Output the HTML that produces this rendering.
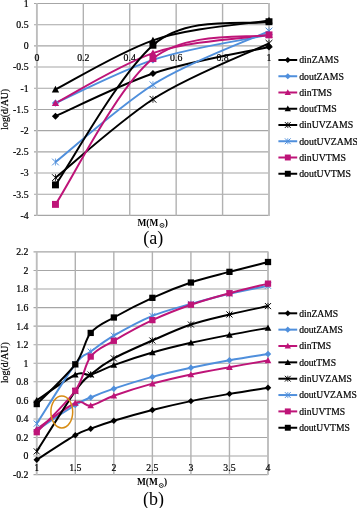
<!DOCTYPE html>
<html><head><meta charset="utf-8"><title>Figure</title>
<style>html,body{margin:0;padding:0;background:#fff;width:357px;height:508px;overflow:hidden}svg{display:block;will-change:transform}text.s{stroke:#000;stroke-width:0.2px}</style>
</head><body>
<svg width="357" height="508" viewBox="0 0 357 508">
<rect width="357" height="508" fill="#fff"/>
<line x1="34" y1="3.50" x2="269.00" y2="3.50" stroke="#a6a6a6" stroke-width="1.1"/>
<line x1="34" y1="24.69" x2="269.00" y2="24.69" stroke="#a6a6a6" stroke-width="1.1"/>
<line x1="34" y1="45.88" x2="269.00" y2="45.88" stroke="#a6a6a6" stroke-width="1.1"/>
<line x1="34" y1="67.07" x2="269.00" y2="67.07" stroke="#a6a6a6" stroke-width="1.1"/>
<line x1="34" y1="88.26" x2="269.00" y2="88.26" stroke="#a6a6a6" stroke-width="1.1"/>
<line x1="34" y1="109.45" x2="269.00" y2="109.45" stroke="#a6a6a6" stroke-width="1.1"/>
<line x1="34" y1="130.64" x2="269.00" y2="130.64" stroke="#a6a6a6" stroke-width="1.1"/>
<line x1="34" y1="151.83" x2="269.00" y2="151.83" stroke="#a6a6a6" stroke-width="1.1"/>
<line x1="34" y1="173.02" x2="269.00" y2="173.02" stroke="#a6a6a6" stroke-width="1.1"/>
<line x1="34" y1="194.21" x2="269.00" y2="194.21" stroke="#a6a6a6" stroke-width="1.1"/>
<line x1="34" y1="215.40" x2="269.00" y2="215.40" stroke="#a6a6a6" stroke-width="1.1"/>
<line x1="36.90" y1="3.00" x2="36.90" y2="215.90" stroke="#bdbdbd" stroke-width="1.9"/>
<line x1="83.32" y1="3.00" x2="83.32" y2="215.90" stroke="#b1b1b1" stroke-width="1.4"/>
<line x1="129.74" y1="3.00" x2="129.74" y2="215.90" stroke="#b1b1b1" stroke-width="1.4"/>
<line x1="176.16" y1="3.00" x2="176.16" y2="215.90" stroke="#b1b1b1" stroke-width="1.4"/>
<line x1="222.58" y1="3.00" x2="222.58" y2="215.90" stroke="#b1b1b1" stroke-width="1.4"/>
<line x1="269.00" y1="3.00" x2="269.00" y2="215.90" stroke="#bdbdbd" stroke-width="1.9"/>
<text x="28.6" y="6.90" text-anchor="end" font-family='"Liberation Serif", serif' class="s" font-size="9.8">1</text>
<text x="28.6" y="28.09" text-anchor="end" font-family='"Liberation Serif", serif' class="s" font-size="9.8">0.5</text>
<text x="28.6" y="49.28" text-anchor="end" font-family='"Liberation Serif", serif' class="s" font-size="9.8">0</text>
<text x="28.6" y="70.47" text-anchor="end" font-family='"Liberation Serif", serif' class="s" font-size="9.8">‑0.5</text>
<text x="28.6" y="91.66" text-anchor="end" font-family='"Liberation Serif", serif' class="s" font-size="9.8">‑1</text>
<text x="28.6" y="112.85" text-anchor="end" font-family='"Liberation Serif", serif' class="s" font-size="9.8">‑1.5</text>
<text x="28.6" y="134.04" text-anchor="end" font-family='"Liberation Serif", serif' class="s" font-size="9.8">‑2</text>
<text x="28.6" y="155.23" text-anchor="end" font-family='"Liberation Serif", serif' class="s" font-size="9.8">‑2.5</text>
<text x="28.6" y="176.42" text-anchor="end" font-family='"Liberation Serif", serif' class="s" font-size="9.8">‑3</text>
<text x="28.6" y="197.61" text-anchor="end" font-family='"Liberation Serif", serif' class="s" font-size="9.8">‑3.5</text>
<text x="28.6" y="218.80" text-anchor="end" font-family='"Liberation Serif", serif' class="s" font-size="9.8">‑4</text>
<text x="36.90" y="61" text-anchor="middle" font-family='"Liberation Serif", serif' class="s" font-size="9.8">0</text>
<text x="83.32" y="61" text-anchor="middle" font-family='"Liberation Serif", serif' class="s" font-size="9.8">0.2</text>
<text x="129.74" y="61" text-anchor="middle" font-family='"Liberation Serif", serif' class="s" font-size="9.8">0.4</text>
<text x="176.16" y="61" text-anchor="middle" font-family='"Liberation Serif", serif' class="s" font-size="9.8">0.6</text>
<text x="222.58" y="61" text-anchor="middle" font-family='"Liberation Serif", serif' class="s" font-size="9.8">0.8</text>
<text x="269.00" y="61" text-anchor="middle" font-family='"Liberation Serif", serif' class="s" font-size="9.8">1</text>
<text transform="translate(8.2 109.3) rotate(-90)" text-anchor="middle" font-family='"Liberation Serif", serif' class="s" font-size="9.8">log(d/AU)</text>
<text x="137.5" y="226.2" font-family='"Liberation Serif", serif' font-size="9.4" font-weight="bold">M(M</text>
<circle cx="162.0" cy="225.4" r="2.0" fill="none" stroke="#000" stroke-width="0.8"/><circle cx="162.0" cy="225.4" r="0.6"/>
<text x="164.7" y="226.2" font-family='"Liberation Serif", serif' font-size="9.4" font-weight="bold">)</text>
<text x="153.3" y="244.0" text-anchor="middle" font-family='"Liberation Serif", serif' font-size="18">(a)</text>
<path d="M55.47 116.23 C71.72 109.12 117.98 85.64 152.95 73.55 C187.92 61.47 249.66 51.38 269.00 46.94" fill="none" stroke="#000" stroke-width="2"/>
<path d="M55.47 103.09 C71.72 95.89 117.98 71.84 152.95 59.87 C187.92 47.89 249.66 39.03 269.00 34.86" fill="none" stroke="#4f8fdc" stroke-width="2"/>
<path d="M55.47 103.09 C71.72 94.76 117.98 65.52 152.95 53.08 C187.92 40.65 249.66 37.90 269.00 34.86" fill="none" stroke="#be1478" stroke-width="2"/>
<path d="M55.47 89.53 C71.72 81.34 117.98 52.86 152.95 40.37 C187.92 27.88 249.66 23.77 269.00 20.45" fill="none" stroke="#000" stroke-width="2"/>
<path d="M55.47 177.68 C71.72 164.61 117.98 122.42 152.95 99.28 C187.92 76.14 249.66 52.66 269.00 43.34" fill="none" stroke="#000" stroke-width="2"/>
<path d="M55.47 162.00 C71.72 149.12 117.98 107.35 152.95 84.74 C187.92 62.13 249.66 40.00 269.00 31.05" fill="none" stroke="#4f8fdc" stroke-width="2"/>
<path d="M55.47 204.38 C71.72 180.08 117.36 86.85 152.95 58.59 C188.54 30.34 249.66 38.82 269.00 34.86" fill="none" stroke="#be1478" stroke-width="2"/>
<path d="M55.47 184.89 C71.72 161.61 117.98 76.31 152.95 45.24 C187.92 14.18 249.66 25.64 269.00 21.72" fill="none" stroke="#000" stroke-width="2"/>
<path d="M55.47 112.66L59.04 116.23L55.47 119.80L51.90 116.23Z" fill="#000"/>
<path d="M152.95 69.98L156.52 73.55L152.95 77.12L149.38 73.55Z" fill="#000"/>
<path d="M269.00 43.37L272.57 46.94L269.00 50.51L265.43 46.94Z" fill="#000"/>
<path d="M55.47 99.52L59.04 103.09L55.47 106.66L51.90 103.09Z" fill="#4f8fdc"/>
<path d="M152.95 56.30L156.52 59.87L152.95 63.44L149.38 59.87Z" fill="#4f8fdc"/>
<path d="M269.00 31.29L272.57 34.86L269.00 38.43L265.43 34.86Z" fill="#4f8fdc"/>
<path d="M55.47 99.40L59.14 106.12L51.79 106.12Z" fill="#be1478"/>
<path d="M152.95 49.39L156.62 56.11L149.27 56.11Z" fill="#be1478"/>
<path d="M269.00 31.17L272.68 37.89L265.32 37.89Z" fill="#be1478"/>
<path d="M55.47 85.84L59.14 92.56L51.79 92.56Z" fill="#000"/>
<path d="M152.95 36.67L156.62 43.39L149.27 43.39Z" fill="#000"/>
<path d="M269.00 16.76L272.68 23.48L265.32 23.48Z" fill="#000"/>
<path d="M52.11 174.32L58.83 181.04M52.11 181.04L58.83 174.32" stroke="#000" stroke-width="1" fill="none"/><path d="M55.47 174.15L55.47 181.21" stroke="#000" stroke-width="0.8" fill="none"/>
<path d="M149.59 95.92L156.31 102.64M149.59 102.64L156.31 95.92" stroke="#000" stroke-width="1" fill="none"/><path d="M152.95 95.75L152.95 102.81" stroke="#000" stroke-width="0.8" fill="none"/>
<path d="M265.64 39.98L272.36 46.70M265.64 46.70L272.36 39.98" stroke="#000" stroke-width="1" fill="none"/><path d="M269.00 39.81L269.00 46.87" stroke="#000" stroke-width="0.8" fill="none"/>
<path d="M52.11 158.64L58.83 165.36M52.11 165.36L58.83 158.64" stroke="#4f8fdc" stroke-width="1" fill="none"/><path d="M55.47 158.47L55.47 165.53" stroke="#4f8fdc" stroke-width="0.8" fill="none"/>
<path d="M149.59 81.38L156.31 88.10M149.59 88.10L156.31 81.38" stroke="#4f8fdc" stroke-width="1" fill="none"/><path d="M152.95 81.21L152.95 88.27" stroke="#4f8fdc" stroke-width="0.8" fill="none"/>
<path d="M265.64 27.69L272.36 34.41M265.64 34.41L272.36 27.69" stroke="#4f8fdc" stroke-width="1" fill="none"/><path d="M269.00 27.52L269.00 34.58" stroke="#4f8fdc" stroke-width="0.8" fill="none"/>
<rect x="52.00" y="200.92" width="6.93" height="6.93" fill="#be1478"/>
<rect x="149.48" y="55.13" width="6.93" height="6.93" fill="#be1478"/>
<rect x="265.54" y="31.40" width="6.93" height="6.93" fill="#be1478"/>
<rect x="52.00" y="181.42" width="6.93" height="6.93" fill="#000"/>
<rect x="149.48" y="41.78" width="6.93" height="6.93" fill="#000"/>
<rect x="265.54" y="18.26" width="6.93" height="6.93" fill="#000"/>
<line x1="278.4" y1="60.00" x2="297.2" y2="60.00" stroke="#000" stroke-width="2"/>
<path d="M287.80 56.94L290.86 60.00L287.80 63.06L284.74 60.00Z" fill="#000"/>
<text class="s" x="299.2" y="63.30" font-family='"Liberation Serif", serif' font-size="9.80" fill="#000">dinZAMS</text>
<line x1="278.4" y1="76.25" x2="297.2" y2="76.25" stroke="#4f8fdc" stroke-width="2"/>
<path d="M287.80 73.19L290.86 76.25L287.80 79.31L284.74 76.25Z" fill="#4f8fdc"/>
<text class="s" x="299.2" y="79.55" font-family='"Liberation Serif", serif' font-size="9.80" fill="#000">doutZAMS</text>
<line x1="278.4" y1="92.50" x2="297.2" y2="92.50" stroke="#be1478" stroke-width="2"/>
<path d="M287.80 89.33L290.95 95.09L284.65 95.09Z" fill="#be1478"/>
<text class="s" x="299.2" y="95.80" font-family='"Liberation Serif", serif' font-size="9.80" fill="#000">dinTMS</text>
<line x1="278.4" y1="108.75" x2="297.2" y2="108.75" stroke="#000" stroke-width="2"/>
<path d="M287.80 105.58L290.95 111.34L284.65 111.34Z" fill="#000"/>
<text class="s" x="299.2" y="112.05" font-family='"Liberation Serif", serif' font-size="9.80" fill="#000">doutTMS</text>
<line x1="278.4" y1="125.00" x2="297.2" y2="125.00" stroke="#000" stroke-width="2"/>
<path d="M284.92 122.12L290.68 127.88M284.92 127.88L290.68 122.12" stroke="#000" stroke-width="1" fill="none"/><path d="M287.80 121.98L287.80 128.02" stroke="#000" stroke-width="0.8" fill="none"/>
<text class="s" x="299.2" y="128.30" font-family='"Liberation Serif", serif' font-size="9.80" fill="#000">dinUVZAMS</text>
<line x1="278.4" y1="141.25" x2="297.2" y2="141.25" stroke="#4f8fdc" stroke-width="2"/>
<path d="M284.92 138.37L290.68 144.13M284.92 144.13L290.68 138.37" stroke="#4f8fdc" stroke-width="1" fill="none"/><path d="M287.80 138.23L287.80 144.27" stroke="#4f8fdc" stroke-width="0.8" fill="none"/>
<text class="s" x="299.2" y="144.55" font-family='"Liberation Serif", serif' font-size="9.80" fill="#000">doutUVZAMS</text>
<line x1="278.4" y1="157.50" x2="297.2" y2="157.50" stroke="#be1478" stroke-width="2"/>
<rect x="284.83" y="154.53" width="5.94" height="5.94" fill="#be1478"/>
<text class="s" x="299.2" y="160.80" font-family='"Liberation Serif", serif' font-size="9.80" fill="#000">dinUVTMS</text>
<line x1="278.4" y1="173.75" x2="297.2" y2="173.75" stroke="#000" stroke-width="2"/>
<rect x="284.83" y="170.78" width="5.94" height="5.94" fill="#000"/>
<text class="s" x="299.2" y="177.05" font-family='"Liberation Serif", serif' font-size="9.80" fill="#000">doutUVTMS</text>
<line x1="33.5" y1="251.90" x2="268.00" y2="251.90" stroke="#a6a6a6" stroke-width="1.1"/>
<line x1="33.5" y1="270.46" x2="268.00" y2="270.46" stroke="#a6a6a6" stroke-width="1.1"/>
<line x1="33.5" y1="289.02" x2="268.00" y2="289.02" stroke="#a6a6a6" stroke-width="1.1"/>
<line x1="33.5" y1="307.58" x2="268.00" y2="307.58" stroke="#a6a6a6" stroke-width="1.1"/>
<line x1="33.5" y1="326.13" x2="268.00" y2="326.13" stroke="#a6a6a6" stroke-width="1.1"/>
<line x1="33.5" y1="344.69" x2="268.00" y2="344.69" stroke="#a6a6a6" stroke-width="1.1"/>
<line x1="33.5" y1="363.25" x2="268.00" y2="363.25" stroke="#a6a6a6" stroke-width="1.1"/>
<line x1="33.5" y1="381.81" x2="268.00" y2="381.81" stroke="#a6a6a6" stroke-width="1.1"/>
<line x1="33.5" y1="400.37" x2="268.00" y2="400.37" stroke="#a6a6a6" stroke-width="1.1"/>
<line x1="33.5" y1="418.93" x2="268.00" y2="418.93" stroke="#a6a6a6" stroke-width="1.1"/>
<line x1="33.5" y1="437.48" x2="268.00" y2="437.48" stroke="#a6a6a6" stroke-width="1.1"/>
<line x1="33.5" y1="456.04" x2="268.00" y2="456.04" stroke="#a6a6a6" stroke-width="1.1"/>
<line x1="33.5" y1="474.60" x2="268.00" y2="474.60" stroke="#a6a6a6" stroke-width="1.1"/>
<line x1="36.75" y1="251.40" x2="36.75" y2="475.10" stroke="#bdbdbd" stroke-width="1.9"/>
<line x1="75.29" y1="251.40" x2="75.29" y2="475.10" stroke="#b1b1b1" stroke-width="1.4"/>
<line x1="113.83" y1="251.40" x2="113.83" y2="475.10" stroke="#b1b1b1" stroke-width="1.4"/>
<line x1="152.38" y1="251.40" x2="152.38" y2="475.10" stroke="#b1b1b1" stroke-width="1.4"/>
<line x1="190.92" y1="251.40" x2="190.92" y2="475.10" stroke="#b1b1b1" stroke-width="1.4"/>
<line x1="229.46" y1="251.40" x2="229.46" y2="475.10" stroke="#b1b1b1" stroke-width="1.4"/>
<line x1="268.00" y1="251.40" x2="268.00" y2="475.10" stroke="#bdbdbd" stroke-width="1.9"/>
<text x="28.4" y="255.30" text-anchor="end" font-family='"Liberation Serif", serif' class="s" font-size="9.8">2.2</text>
<text x="28.4" y="273.86" text-anchor="end" font-family='"Liberation Serif", serif' class="s" font-size="9.8">2</text>
<text x="28.4" y="292.42" text-anchor="end" font-family='"Liberation Serif", serif' class="s" font-size="9.8">1.8</text>
<text x="28.4" y="310.98" text-anchor="end" font-family='"Liberation Serif", serif' class="s" font-size="9.8">1.6</text>
<text x="28.4" y="329.53" text-anchor="end" font-family='"Liberation Serif", serif' class="s" font-size="9.8">1.4</text>
<text x="28.4" y="348.09" text-anchor="end" font-family='"Liberation Serif", serif' class="s" font-size="9.8">1.2</text>
<text x="28.4" y="366.65" text-anchor="end" font-family='"Liberation Serif", serif' class="s" font-size="9.8">1</text>
<text x="28.4" y="385.21" text-anchor="end" font-family='"Liberation Serif", serif' class="s" font-size="9.8">0.8</text>
<text x="28.4" y="403.77" text-anchor="end" font-family='"Liberation Serif", serif' class="s" font-size="9.8">0.6</text>
<text x="28.4" y="422.32" text-anchor="end" font-family='"Liberation Serif", serif' class="s" font-size="9.8">0.4</text>
<text x="28.4" y="440.88" text-anchor="end" font-family='"Liberation Serif", serif' class="s" font-size="9.8">0.2</text>
<text x="28.4" y="459.44" text-anchor="end" font-family='"Liberation Serif", serif' class="s" font-size="9.8">0</text>
<text x="28.4" y="478.00" text-anchor="end" font-family='"Liberation Serif", serif' class="s" font-size="9.8">‑0.2</text>
<text x="36.75" y="471.3" text-anchor="middle" font-family='"Liberation Serif", serif' class="s" font-size="9.8">1</text>
<text x="75.29" y="471.3" text-anchor="middle" font-family='"Liberation Serif", serif' class="s" font-size="9.8">1.5</text>
<text x="113.83" y="471.3" text-anchor="middle" font-family='"Liberation Serif", serif' class="s" font-size="9.8">2</text>
<text x="152.38" y="471.3" text-anchor="middle" font-family='"Liberation Serif", serif' class="s" font-size="9.8">2.5</text>
<text x="190.92" y="471.3" text-anchor="middle" font-family='"Liberation Serif", serif' class="s" font-size="9.8">3</text>
<text x="229.46" y="471.3" text-anchor="middle" font-family='"Liberation Serif", serif' class="s" font-size="9.8">3.5</text>
<text x="268.00" y="471.3" text-anchor="middle" font-family='"Liberation Serif", serif' class="s" font-size="9.8">4</text>
<text transform="translate(8.2 362.7) rotate(-90)" text-anchor="middle" font-family='"Liberation Serif", serif' class="s" font-size="9.8">log(d/AU)</text>
<text x="137" y="485.4" font-family='"Liberation Serif", serif' font-size="9.4" font-weight="bold">M(M</text>
<circle cx="161.3" cy="485.5" r="2.0" fill="none" stroke="#000" stroke-width="0.8"/><circle cx="161.3" cy="485.5" r="0.6"/>
<text x="164.0" y="485.4" font-family='"Liberation Serif", serif' font-size="9.4" font-weight="bold">)</text>
<text x="153.6" y="504.7" text-anchor="middle" font-family='"Liberation Serif", serif' font-size="18">(b)</text>
<path d="M36.75 459.75 C43.17 455.66 66.30 440.34 75.29 435.16 C84.28 429.98 84.28 431.07 90.71 428.67 C97.13 426.27 103.56 423.89 113.83 420.78 C124.11 417.67 139.53 413.30 152.38 410.02 C165.22 406.74 178.07 403.80 190.92 401.11 C203.76 398.42 216.61 396.10 229.46 393.87 C242.31 391.64 261.58 388.77 268.00 387.75" fill="none" stroke="#000" stroke-width="2"/>
<path d="M36.75 430.06 C43.17 425.88 66.30 410.43 75.29 405.01 C84.28 399.58 84.28 400.21 90.71 397.49 C97.13 394.77 103.56 392.11 113.83 388.67 C124.11 385.24 139.53 380.37 152.38 376.89 C165.22 373.41 178.07 370.58 190.92 367.80 C203.76 365.01 216.61 362.49 229.46 360.19 C242.31 357.88 261.58 355.01 268.00 353.97" fill="none" stroke="#4f8fdc" stroke-width="2"/>
<path d="M36.75 429.13 C43.17 424.77 66.30 406.89 75.29 402.96 C84.28 399.04 84.28 406.77 90.71 405.56 C97.13 404.36 103.56 399.38 113.83 395.73 C124.11 392.08 139.53 387.21 152.38 383.66 C165.22 380.12 178.07 377.23 190.92 374.48 C203.76 371.72 216.61 369.48 229.46 367.15 C242.31 364.81 261.58 361.58 268.00 360.47" fill="none" stroke="#be1478" stroke-width="2"/>
<path d="M36.75 400.37 C43.17 396.10 66.30 379.06 75.29 374.76 C84.28 370.46 84.28 376.18 90.71 374.57 C97.13 372.96 103.56 368.77 113.83 365.11 C124.11 361.44 139.53 356.29 152.38 352.58 C165.22 348.87 178.07 345.77 190.92 342.84 C203.76 339.90 216.61 337.44 229.46 334.95 C242.31 332.46 261.58 329.07 268.00 327.90" fill="none" stroke="#000" stroke-width="2"/>
<path d="M36.75 451.40 C43.17 441.35 66.30 403.89 75.29 391.09 C84.28 378.28 84.28 380.01 90.71 374.57 C97.13 369.13 103.56 364.10 113.83 358.42 C124.11 352.75 139.53 346.16 152.38 340.52 C165.22 334.87 178.07 328.90 190.92 324.56 C203.76 320.21 216.61 317.52 229.46 314.44 C242.31 311.36 261.58 307.48 268.00 306.09" fill="none" stroke="#000" stroke-width="2"/>
<path d="M36.75 423.66 C43.17 413.74 66.30 376.18 75.29 364.18 C84.28 352.18 84.28 356.40 90.71 351.65 C97.13 346.90 103.56 341.65 113.83 335.69 C124.11 329.74 139.53 321.23 152.38 315.93 C165.22 310.62 178.07 307.58 190.92 303.86 C203.76 300.15 216.61 296.67 229.46 293.66 C242.31 290.64 261.58 287.08 268.00 285.77" fill="none" stroke="#4f8fdc" stroke-width="2"/>
<path d="M36.75 432.19 C43.17 425.28 66.30 403.32 75.29 390.72 C84.28 378.11 84.28 364.89 90.71 356.57 C97.13 348.25 103.56 346.87 113.83 340.79 C124.11 334.72 139.53 326.12 152.38 320.10 C165.22 314.09 178.07 309.18 190.92 304.70 C203.76 300.21 216.61 296.70 229.46 293.19 C242.31 289.68 261.58 285.23 268.00 283.63" fill="none" stroke="#be1478" stroke-width="2"/>
<path d="M36.75 404.08 C43.17 397.46 66.30 376.23 75.29 364.36 C84.28 352.50 84.28 340.72 90.71 332.91 C97.13 325.10 103.56 323.35 113.83 317.50 C124.11 311.66 139.53 303.66 152.38 297.83 C165.22 292.00 178.07 286.85 190.92 282.52 C203.76 278.19 216.61 275.27 229.46 271.85 C242.31 268.43 261.58 263.65 268.00 262.01" fill="none" stroke="#000" stroke-width="2"/>
<path d="M36.75 456.52L39.98 459.75L36.75 462.98L33.52 459.75Z" fill="#000"/>
<path d="M75.29 431.93L78.52 435.16L75.29 438.39L72.06 435.16Z" fill="#000"/>
<path d="M90.71 425.44L93.94 428.67L90.71 431.90L87.48 428.67Z" fill="#000"/>
<path d="M113.83 417.55L117.06 420.78L113.83 424.01L110.60 420.78Z" fill="#000"/>
<path d="M152.38 406.79L155.60 410.02L152.38 413.25L149.15 410.02Z" fill="#000"/>
<path d="M190.92 397.88L194.15 401.11L190.92 404.34L187.69 401.11Z" fill="#000"/>
<path d="M229.46 390.64L232.69 393.87L229.46 397.10L226.23 393.87Z" fill="#000"/>
<path d="M268.00 384.52L271.23 387.75L268.00 390.98L264.77 387.75Z" fill="#000"/>
<path d="M36.75 426.83L39.98 430.06L36.75 433.29L33.52 430.06Z" fill="#4f8fdc"/>
<path d="M75.29 401.78L78.52 405.01L75.29 408.24L72.06 405.01Z" fill="#4f8fdc"/>
<path d="M90.71 394.26L93.94 397.49L90.71 400.72L87.48 397.49Z" fill="#4f8fdc"/>
<path d="M113.83 385.44L117.06 388.67L113.83 391.90L110.60 388.67Z" fill="#4f8fdc"/>
<path d="M152.38 373.66L155.60 376.89L152.38 380.12L149.15 376.89Z" fill="#4f8fdc"/>
<path d="M190.92 364.57L194.15 367.80L190.92 371.03L187.69 367.80Z" fill="#4f8fdc"/>
<path d="M229.46 356.96L232.69 360.19L229.46 363.42L226.23 360.19Z" fill="#4f8fdc"/>
<path d="M268.00 350.74L271.23 353.97L268.00 357.20L264.77 353.97Z" fill="#4f8fdc"/>
<path d="M36.75 425.79L40.08 431.87L33.42 431.87Z" fill="#be1478"/>
<path d="M75.29 399.62L78.62 405.70L71.97 405.70Z" fill="#be1478"/>
<path d="M90.71 402.22L94.03 408.30L87.38 408.30Z" fill="#be1478"/>
<path d="M113.83 392.38L117.16 398.46L110.51 398.46Z" fill="#be1478"/>
<path d="M152.38 380.32L155.70 386.40L149.05 386.40Z" fill="#be1478"/>
<path d="M190.92 371.13L194.24 377.21L187.59 377.21Z" fill="#be1478"/>
<path d="M229.46 363.80L232.78 369.88L226.13 369.88Z" fill="#be1478"/>
<path d="M268.00 357.12L271.32 363.20L264.68 363.20Z" fill="#be1478"/>
<path d="M36.75 397.02L40.08 403.10L33.42 403.10Z" fill="#000"/>
<path d="M75.29 371.41L78.62 377.49L71.97 377.49Z" fill="#000"/>
<path d="M90.71 371.23L94.03 377.31L87.38 377.31Z" fill="#000"/>
<path d="M113.83 361.76L117.16 367.84L110.51 367.84Z" fill="#000"/>
<path d="M152.38 349.23L155.70 355.31L149.05 355.31Z" fill="#000"/>
<path d="M190.92 339.49L194.24 345.57L187.59 345.57Z" fill="#000"/>
<path d="M229.46 331.60L232.78 337.68L226.13 337.68Z" fill="#000"/>
<path d="M268.00 324.55L271.32 330.63L264.68 330.63Z" fill="#000"/>
<path d="M33.71 448.36L39.79 454.44M33.71 454.44L39.79 448.36" stroke="#000" stroke-width="1" fill="none"/><path d="M36.75 448.21L36.75 454.59" stroke="#000" stroke-width="0.8" fill="none"/>
<path d="M72.25 388.05L78.33 394.13M72.25 394.13L78.33 388.05" stroke="#000" stroke-width="1" fill="none"/><path d="M75.29 387.90L75.29 394.28" stroke="#000" stroke-width="0.8" fill="none"/>
<path d="M87.67 371.53L93.75 377.61M87.67 377.61L93.75 371.53" stroke="#000" stroke-width="1" fill="none"/><path d="M90.71 371.38L90.71 377.76" stroke="#000" stroke-width="0.8" fill="none"/>
<path d="M110.79 355.38L116.87 361.46M110.79 361.46L116.87 355.38" stroke="#000" stroke-width="1" fill="none"/><path d="M113.83 355.23L113.83 361.62" stroke="#000" stroke-width="0.8" fill="none"/>
<path d="M149.34 337.48L155.41 343.56M149.34 343.56L155.41 337.48" stroke="#000" stroke-width="1" fill="none"/><path d="M152.38 337.32L152.38 343.71" stroke="#000" stroke-width="0.8" fill="none"/>
<path d="M187.88 321.52L193.96 327.60M187.88 327.60L193.96 321.52" stroke="#000" stroke-width="1" fill="none"/><path d="M190.92 321.36L190.92 327.75" stroke="#000" stroke-width="0.8" fill="none"/>
<path d="M226.42 311.40L232.50 317.48M226.42 317.48L232.50 311.40" stroke="#000" stroke-width="1" fill="none"/><path d="M229.46 311.25L229.46 317.63" stroke="#000" stroke-width="0.8" fill="none"/>
<path d="M264.96 303.05L271.04 309.13M264.96 309.13L271.04 303.05" stroke="#000" stroke-width="1" fill="none"/><path d="M268.00 302.90L268.00 309.28" stroke="#000" stroke-width="0.8" fill="none"/>
<path d="M33.71 420.62L39.79 426.70M33.71 426.70L39.79 420.62" stroke="#4f8fdc" stroke-width="1" fill="none"/><path d="M36.75 420.47L36.75 426.85" stroke="#4f8fdc" stroke-width="0.8" fill="none"/>
<path d="M72.25 361.14L78.33 367.22M72.25 367.22L78.33 361.14" stroke="#4f8fdc" stroke-width="1" fill="none"/><path d="M75.29 360.99L75.29 367.37" stroke="#4f8fdc" stroke-width="0.8" fill="none"/>
<path d="M87.67 348.61L93.75 354.69M87.67 354.69L93.75 348.61" stroke="#4f8fdc" stroke-width="1" fill="none"/><path d="M90.71 348.46L90.71 354.84" stroke="#4f8fdc" stroke-width="0.8" fill="none"/>
<path d="M110.79 332.65L116.87 338.73M110.79 338.73L116.87 332.65" stroke="#4f8fdc" stroke-width="1" fill="none"/><path d="M113.83 332.50L113.83 338.88" stroke="#4f8fdc" stroke-width="0.8" fill="none"/>
<path d="M149.34 312.89L155.41 318.97M149.34 318.97L155.41 312.89" stroke="#4f8fdc" stroke-width="1" fill="none"/><path d="M152.38 312.73L152.38 319.12" stroke="#4f8fdc" stroke-width="0.8" fill="none"/>
<path d="M187.88 300.82L193.96 306.90M187.88 306.90L193.96 300.82" stroke="#4f8fdc" stroke-width="1" fill="none"/><path d="M190.92 300.67L190.92 307.06" stroke="#4f8fdc" stroke-width="0.8" fill="none"/>
<path d="M226.42 290.62L232.50 296.70M226.42 296.70L232.50 290.62" stroke="#4f8fdc" stroke-width="1" fill="none"/><path d="M229.46 290.46L229.46 296.85" stroke="#4f8fdc" stroke-width="0.8" fill="none"/>
<path d="M264.96 282.73L271.04 288.81M264.96 288.81L271.04 282.73" stroke="#4f8fdc" stroke-width="1" fill="none"/><path d="M268.00 282.58L268.00 288.96" stroke="#4f8fdc" stroke-width="0.8" fill="none"/>
<rect x="33.62" y="429.06" width="6.27" height="6.27" fill="#be1478"/>
<rect x="72.16" y="387.58" width="6.27" height="6.27" fill="#be1478"/>
<rect x="87.57" y="353.43" width="6.27" height="6.27" fill="#be1478"/>
<rect x="110.70" y="337.66" width="6.27" height="6.27" fill="#be1478"/>
<rect x="149.24" y="316.97" width="6.27" height="6.27" fill="#be1478"/>
<rect x="187.78" y="301.56" width="6.27" height="6.27" fill="#be1478"/>
<rect x="226.32" y="290.06" width="6.27" height="6.27" fill="#be1478"/>
<rect x="264.87" y="280.50" width="6.27" height="6.27" fill="#be1478"/>
<rect x="33.62" y="400.94" width="6.27" height="6.27" fill="#000"/>
<rect x="72.16" y="361.23" width="6.27" height="6.27" fill="#000"/>
<rect x="87.57" y="329.77" width="6.27" height="6.27" fill="#000"/>
<rect x="110.70" y="314.37" width="6.27" height="6.27" fill="#000"/>
<rect x="149.24" y="294.70" width="6.27" height="6.27" fill="#000"/>
<rect x="187.78" y="279.39" width="6.27" height="6.27" fill="#000"/>
<rect x="226.32" y="268.72" width="6.27" height="6.27" fill="#000"/>
<rect x="264.87" y="258.88" width="6.27" height="6.27" fill="#000"/>
<ellipse cx="61.8" cy="411.9" rx="10.9" ry="16.0" fill="none" stroke="#d78c14" stroke-width="1.5"/>
<line x1="278.4" y1="313.30" x2="297.2" y2="313.30" stroke="#000" stroke-width="2"/>
<path d="M287.80 310.24L290.86 313.30L287.80 316.36L284.74 313.30Z" fill="#000"/>
<text class="s" x="299.2" y="316.60" font-family='"Liberation Serif", serif' font-size="9.60" fill="#000">dinZAMS</text>
<line x1="278.4" y1="329.65" x2="297.2" y2="329.65" stroke="#4f8fdc" stroke-width="2"/>
<path d="M287.80 326.59L290.86 329.65L287.80 332.71L284.74 329.65Z" fill="#4f8fdc"/>
<text class="s" x="299.2" y="332.95" font-family='"Liberation Serif", serif' font-size="9.60" fill="#000">doutZAMS</text>
<line x1="278.4" y1="346.00" x2="297.2" y2="346.00" stroke="#be1478" stroke-width="2"/>
<path d="M287.80 342.83L290.95 348.59L284.65 348.59Z" fill="#be1478"/>
<text class="s" x="299.2" y="349.30" font-family='"Liberation Serif", serif' font-size="9.60" fill="#000">dinTMS</text>
<line x1="278.4" y1="362.35" x2="297.2" y2="362.35" stroke="#000" stroke-width="2"/>
<path d="M287.80 359.18L290.95 364.94L284.65 364.94Z" fill="#000"/>
<text class="s" x="299.2" y="365.65" font-family='"Liberation Serif", serif' font-size="9.60" fill="#000">doutTMS</text>
<line x1="278.4" y1="378.70" x2="297.2" y2="378.70" stroke="#000" stroke-width="2"/>
<path d="M284.92 375.82L290.68 381.58M284.92 381.58L290.68 375.82" stroke="#000" stroke-width="1" fill="none"/><path d="M287.80 375.68L287.80 381.72" stroke="#000" stroke-width="0.8" fill="none"/>
<text class="s" x="299.2" y="382.00" font-family='"Liberation Serif", serif' font-size="9.60" fill="#000">dinUVZAMS</text>
<line x1="278.4" y1="395.05" x2="297.2" y2="395.05" stroke="#4f8fdc" stroke-width="2"/>
<path d="M284.92 392.17L290.68 397.93M284.92 397.93L290.68 392.17" stroke="#4f8fdc" stroke-width="1" fill="none"/><path d="M287.80 392.03L287.80 398.07" stroke="#4f8fdc" stroke-width="0.8" fill="none"/>
<text class="s" x="299.2" y="398.35" font-family='"Liberation Serif", serif' font-size="9.60" fill="#000">doutUVZAMS</text>
<line x1="278.4" y1="411.40" x2="297.2" y2="411.40" stroke="#be1478" stroke-width="2"/>
<rect x="284.83" y="408.43" width="5.94" height="5.94" fill="#be1478"/>
<text class="s" x="299.2" y="414.70" font-family='"Liberation Serif", serif' font-size="9.60" fill="#000">dinUVTMS</text>
<line x1="278.4" y1="427.75" x2="297.2" y2="427.75" stroke="#000" stroke-width="2"/>
<rect x="284.83" y="424.78" width="5.94" height="5.94" fill="#000"/>
<text class="s" x="299.2" y="431.05" font-family='"Liberation Serif", serif' font-size="9.60" fill="#000">doutUVTMS</text>
</svg>
</body></html>
